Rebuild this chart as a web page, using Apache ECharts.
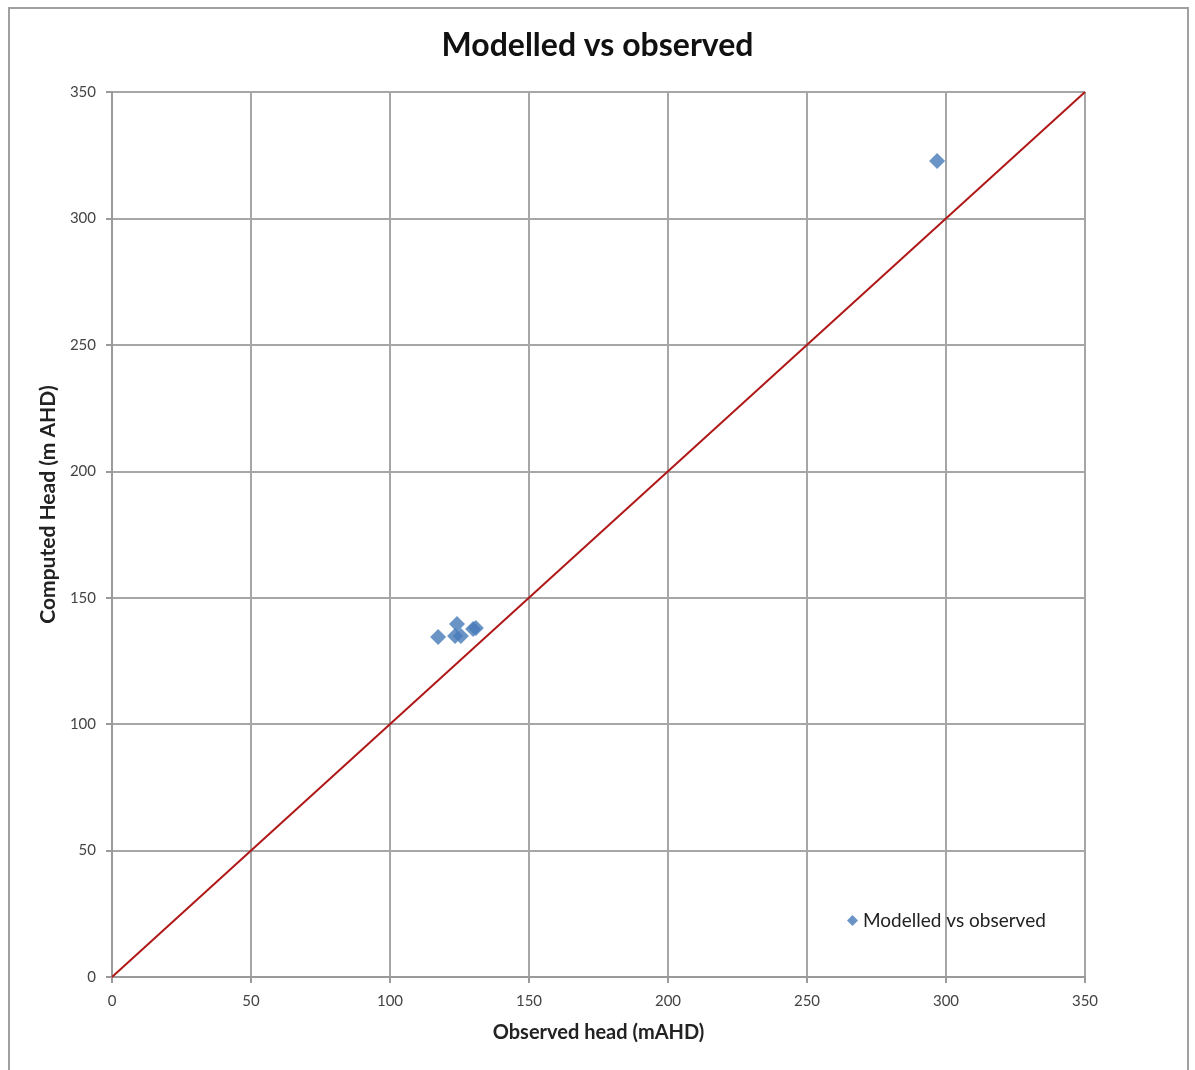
<!DOCTYPE html>
<html>
<head>
<meta charset="utf-8">
<script src="https://cdn.jsdelivr.net/npm/echarts@6/dist/echarts.min.js"></script>
<style>html,body{margin:0;padding:0;background:#fff;}#c{width:1195px;height:1070px;}</style>
</head>
<body>
<div id="c"></div>
<script>
var chartTitle = 'Modelled vs observed';
var seriesName = 'Modelled vs observed';
var xAxisTitle = 'Observed head (mAHD)';
var yAxisTitle = 'Computed Head (m AHD)';
var observed = [117.3, 124.1, 123.4, 125.5, 129.9, 130.9, 296.8];
var computed = [134.5, 139.6, 134.9, 134.9, 137.6, 138.0, 322.7];
var oneToOneLine = [[0, 0], [350, 350]];
var axisMin = 0, axisMax = 350, axisStep = 50;

var pts = observed.map(function (v, i) { return [v, computed[i]]; });
var font = 'Lato, "Open Sans", sans-serif';
var chart = echarts.init(document.getElementById('c'), null, {renderer: 'canvas'});
chart.setOption({
  animation: false,
  backgroundColor: '#fff',
  textStyle: {fontFamily: font},
  title: {
    text: chartTitle, left: 'center', top: 25,
    textStyle: {fontSize: 32, fontWeight: 'bold', color: '#111', fontFamily: font}
  },
  graphic: [{
    type: 'rect', shape: {x: 9, y: 8, width: 1179, height: 1075},
    style: {fill: 'none', stroke: '#a0a0a0', lineWidth: 2}, silent: true
  }],
  legend: {
    data: [{name: seriesName, icon: 'diamond'}],
    left: 842, top: 906, itemWidth: 11, itemHeight: 11, itemGap: 5,
    textStyle: {fontSize: 19, color: '#222', fontFamily: font}
  },
  grid: {left: 112, right: 110, top: 92, bottom: 93, containLabel: false},
  xAxis: {
    type: 'value', min: axisMin, max: axisMax, interval: axisStep,
    name: xAxisTitle, nameLocation: 'middle', nameGap: 46,
    nameTextStyle: {fontSize: 20, fontWeight: 'bold', color: '#222', fontFamily: font},
    axisLine: {show: true, lineStyle: {color: '#9a9a9a', width: 2}},
    axisTick: {show: true, length: 6, lineStyle: {color: '#9a9a9a', width: 2}},
    axisLabel: {fontSize: 15, color: '#444', margin: 17, fontFamily: font},
    splitLine: {show: true, lineStyle: {color: '#a6a6a6', width: 2}}
  },
  yAxis: {
    type: 'value', min: axisMin, max: axisMax, interval: axisStep,
    name: yAxisTitle, nameLocation: 'middle', nameRotate: 90, nameGap: 43,
    nameTextStyle: {fontSize: 21, fontWeight: 'bold', color: '#222', fontFamily: font, padding: [0, 0, 0, 60]},
    axisLine: {show: true, lineStyle: {color: '#9a9a9a', width: 2}},
    axisTick: {show: true, length: 6, lineStyle: {color: '#9a9a9a', width: 2}},
    axisLabel: {fontSize: 15, color: '#444', margin: 16, fontFamily: font},
    splitLine: {show: true, lineStyle: {color: '#a6a6a6', width: 2}}
  },
  series: [
    {
      name: '1:1', type: 'line', data: oneToOneLine, showSymbol: false, symbol: 'none',
      lineStyle: {color: '#b01818', width: 2}, silent: true, z: 2
    },
    {
      name: seriesName, type: 'scatter', data: pts, symbol: 'diamond', symbolSize: 16,
      itemStyle: {color: '#4579b8'}, z: 3
    }
  ]
});
</script>
</body>
</html>
